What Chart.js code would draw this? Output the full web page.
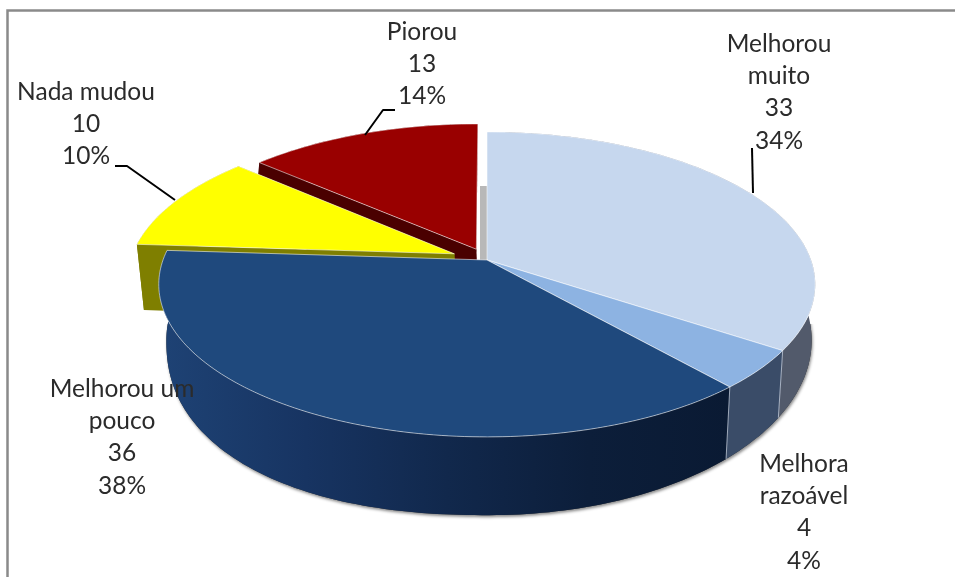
<!DOCTYPE html>
<html>
<head>
<meta charset="utf-8">
<style>html,body{margin:0;padding:0;background:#fff}canvas{display:block}</style>
<script src="https://cdn.jsdelivr.net/npm/chart.js@4/dist/chart.umd.js"></script>
</head>
<body>
<canvas id="c" width="955" height="577"></canvas>
<script>
const categories = ['Melhorou muito', 'Melhora razoável', 'Melhorou um pouco', 'Nada mudou', 'Piorou'];
const values = [33, 4, 36, 10, 13];
const percents = ['34%', '4%', '38%', '10%', '14%'];

const topColors = ['#C6D7EE', '#8DB3E2', '#1F497D', '#FFFF00', '#990000'];
const sideColors = ['#525A6B', '#3A4C68', null, '#7F7F00', '#4A0000'];
const radialColors = ['#B8B8B8', '#3A4C68', '#1F497D', '#7F7F00', '#4A0000'];
const explode = [0, 0, 0, 30, 22];
const extraDrop = [0, 0, 0, 14, 0];
const rimShift = [0, 0, 0, 0, -8];
const rimRoundness = [0, 0, 2.25, 0, 0];

// label layout: centre x, first baseline y, lines wrap
const labelLayout = [
  {x: 779, y: 52,  lines: ['Melhorou', 'muito']},
  {x: 804, y: 472, lines: ['Melhora', 'razoável']},
  {x: 122, y: 397, lines: ['Melhorou um', 'pouco']},
  {x: 86,  y: 100, lines: ['Nada mudou']},
  {x: 422, y: 40,  lines: ['Piorou']}
];
const leaders = [
  [[752, 148], [753, 193]],
  [[115, 166], [127, 166], [175, 200]],
  [[395, 110], [383, 110], [365, 135]]
];

// perspective of the pie's top face and of its bottom rim
const topView = {x: 487, y: 260, bx: 324, by: 148.6, k: -0.16};
const botView = {x: 489, y: 314, bx: 319, by: 171, k: -0.15};
const botEllipse = {x: 489, y: 340, rx: 323, ry: 175};
const project = (v, dx, dy, shift = 0, drop = 0) => {
  const d = 1 + v.k * dy;
  return [v.x + shift + v.bx * dx / d, v.y + drop + v.by * dy / d];
};
// squarer lower-left quadrant of the bottom rim
function roundOut(p, n) {
  const E = botEllipse, u = (E.x - p[0]) / E.rx, v = (p[1] - E.y) / E.ry;
  if (!n || u <= 0 || v <= 0) return p;
  const s = Math.pow(Math.pow(u, n) + Math.pow(v, n), -1 / n) * Math.hypot(u, v);
  return [E.x - u * s * E.rx, E.y + v * s * E.ry];
}

function geometry(arc, i) {
  const mid = (arc.startAngle + arc.endAngle) / 2;
  const off = (arc.options.offset || 0) / arc.outerRadius;
  return {a0: arc.startAngle, a1: arc.endAngle, ox: off * Math.cos(mid), oy: off * Math.sin(mid),
          drop: extraDrop[i], shift: rimShift[i], round: rimRoundness[i]};
}
function rim(g, view) {
  const pts = [], n = Math.max(4, Math.ceil((g.a1 - g.a0) / 0.02));
  const bottom = view === botView;
  for (let i = 0; i <= n; i++) {
    const a = g.a0 + (g.a1 - g.a0) * i / n;
    const p = project(view, Math.cos(a) + g.ox, Math.sin(a) + g.oy, bottom ? g.shift : 0, bottom ? g.drop : 0);
    pts.push(bottom ? roundOut(p, g.round) : p);
  }
  return pts;
}
function path(ctx, pts) {
  ctx.beginPath();
  pts.forEach((p, i) => i ? ctx.lineTo(p[0], p[1]) : ctx.moveTo(p[0], p[1]));
  ctx.closePath();
}
function radialWall(ctx, g, angle, color, shift) {
  const ux = Math.cos(angle) + g.ox, uy = Math.sin(angle) + g.oy;
  path(ctx, [project(topView, g.ox, g.oy), project(topView, ux, uy),
             project(botView, ux, uy, shift, g.drop), project(botView, g.ox, g.oy, shift, g.drop)]);
  ctx.fillStyle = color; ctx.fill();
}
function outerWall(ctx, g, fill) {
  path(ctx, rim(g, topView).concat(rim(g, botView).reverse()));
  ctx.fillStyle = fill; ctx.fill();
}
function topFace(ctx, g, color) {
  path(ctx, [project(topView, g.ox, g.oy)].concat(rim(g, topView)));
  ctx.fillStyle = color; ctx.fill();
  ctx.strokeStyle = 'rgba(255,255,255,0.55)'; ctx.lineWidth = 1; ctx.stroke();
}

const pie3d = {
  id: 'pie3d',
  beforeDatasetDraw(chart) {
    const ctx = chart.ctx, arcs = chart.getDatasetMeta(0).data, G = arcs.map(geometry);
    ctx.save();
    // frame
    ctx.strokeStyle = '#8A8A8A'; ctx.lineWidth = 2.5;
    ctx.beginPath(); ctx.moveTo(7.5, 577); ctx.lineTo(7.5, 10.5); ctx.lineTo(955, 10.5); ctx.stroke();

    // exploded slices, back to front
    [4, 3].forEach(i => {
      radialWall(ctx, G[i], G[i].a0, radialColors[i], 0);
      radialWall(ctx, G[i], G[i].a1, radialColors[i], G[i].shift);
      outerWall(ctx, G[i], sideColors[i]);
      topFace(ctx, G[i], topColors[i]);
    });
    // inner wall of the first slice, seen through the gap
    ctx.save();
    ctx.beginPath(); ctx.rect(470, 186, 30, 90); ctx.clip();
    radialWall(ctx, G[0], G[0].a0, radialColors[0], -9);
    ctx.restore();

    // soft shadow along the front rim only
    ctx.save();
    ctx.beginPath(); ctx.rect(0, 324, 955, 253); ctx.clip();
    ctx.shadowColor = 'rgba(0,0,0,0.45)'; ctx.shadowBlur = 3; ctx.shadowOffsetX = 1; ctx.shadowOffsetY = 2;
    [0, 1, 2].forEach(i => outerWall(ctx, G[i], '#333'));
    ctx.restore();

    const grad = ctx.createLinearGradient(165, 0, 730, 0);
    grad.addColorStop(0, '#1E4274');
    grad.addColorStop(0.25, '#173462');
    grad.addColorStop(0.5, '#11284C');
    grad.addColorStop(0.75, '#0C1E3A');
    grad.addColorStop(1, '#0A1A33');
    outerWall(ctx, G[0], sideColors[0]);
    outerWall(ctx, G[1], sideColors[1]);
    outerWall(ctx, G[2], grad);

    // seams between the wall segments
    ctx.strokeStyle = 'rgba(210,220,235,0.7)'; ctx.lineWidth = 1;
    [G[0].a1, G[1].a1].forEach(a => {
      const t = project(topView, Math.cos(a), Math.sin(a)), b = project(botView, Math.cos(a), Math.sin(a));
      ctx.beginPath(); ctx.moveTo(t[0], t[1]); ctx.lineTo(b[0], b[1]); ctx.stroke();
    });
    [0, 1, 2].forEach(i => topFace(ctx, G[i], topColors[i]));

    // leader lines
    ctx.strokeStyle = '#000'; ctx.lineWidth = 2; ctx.lineJoin = 'round';
    leaders.forEach(l => {
      ctx.beginPath();
      l.forEach((p, i) => i ? ctx.lineTo(p[0], p[1]) : ctx.moveTo(p[0], p[1]));
      ctx.stroke();
    });

    // labels: name, value, share
    ctx.font = '24.5px Lato'; ctx.fillStyle = '#2B2B2B'; ctx.textAlign = 'center'; ctx.textBaseline = 'alphabetic';
    labelLayout.forEach((l, i) => {
      l.lines.concat([String(values[i]), percents[i]]).forEach((t, j) => ctx.fillText(t, l.x, l.y + j * 32.2));
    });
    ctx.restore();
    return false;
  }
};

new Chart(document.getElementById('c'), {
  type: 'pie',
  data: {labels: categories, datasets: [{data: values, backgroundColor: topColors, offset: explode, borderWidth: 0}]},
  options: {
    responsive: false,
    animation: false,
    layout: {padding: 0},
    plugins: {legend: {display: false}, tooltip: {enabled: false}}
  },
  plugins: [pie3d]
});
</script>
</body>
</html>
